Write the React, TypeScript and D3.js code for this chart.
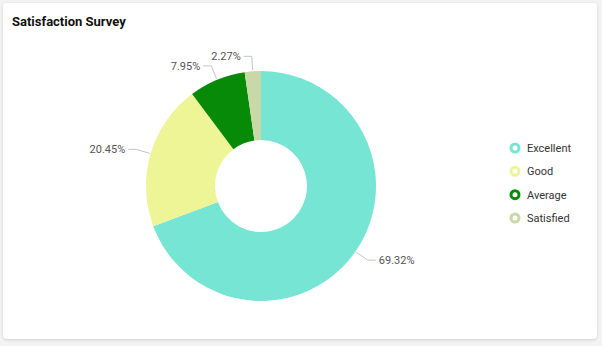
import React from "react";
import * as d3 from "d3";

const categories = ["Excellent", "Good", "Average", "Satisfied"];
const values = [61, 18, 7, 2];
const colors = ["#77e5d4", "#eef596", "#078a07", "#c8d8a6"];
const title = "Satisfaction Survey";

export default function App() {
  const W = 602, H = 346;
  const cx = 261, cy = 186, R = 115, r0 = 46;
  const total = d3.sum(values);
  const pie = d3.pie<number>().sort(null).value((d) => d)(values);
  const arc = d3.arc<d3.PieArcDatum<number>>().innerRadius(r0).outerRadius(R);
  const legendY = d3.scalePoint<string>().domain(categories).range([148, 218]);

  return (
    <svg width={W} height={H} style={{ position: "absolute", left: 0, top: 0, fontFamily: "Roboto, sans-serif" }}>
      <defs>
        <filter id="sh" x="-5%" y="-5%" width="110%" height="110%">
          <feDropShadow dx="0" dy="1" stdDeviation="1.5" floodColor="#000" floodOpacity="0.15" />
        </filter>
      </defs>
      <rect x={0} y={0} width={W} height={H} fill="#f3f3f3" />
      <rect x={3} y={3} width={594} height={336} rx={4} fill="#fff" filter="url(#sh)" />
      <text x={12} y={26} fontSize={13} fontWeight="bold" fill="#111">{title}</text>
      <g transform={`translate(${cx},${cy})`}>
        {pie.map((p, i) => (
          <path key={i} d={arc(p) || ""} fill={colors[i]} />
        ))}
        {pie.map((p, i) => {
          const a = (p.startAngle + p.endAngle) / 2;
          const pt = (rr: number) => [rr * Math.sin(a), -rr * Math.cos(a)];
          const [x1, y1] = pt(R + 1);
          const [x2, y2] = pt(R + 15);
          const right = Math.sin(a) >= 0;
          const x3 = x2 + (right ? 8 : -8);
          const pct = ((values[i] / total) * 100).toFixed(2) + "%";
          return (
            <g key={"l" + i}>
              <polyline points={`${x1},${y1} ${x2},${y2} ${x3},${y2}`} fill="none" stroke="#c4c4c4" strokeWidth={1} />
              <text x={x3 + (right ? 3 : -3)} y={y2} dy="0.35em" fontSize={11} fill="#555" textAnchor={right ? "start" : "end"}>
                {pct}
              </text>
            </g>
          );
        })}
      </g>
      {categories.map((c, i) => (
        <g key={c} transform={`translate(515,${legendY(c)})`}>
          <circle r={4} fill="#fff" stroke={colors[i]} strokeWidth={3} />
          <text x={12} dy="0.35em" fontSize={11} fill="#333">{c}</text>
        </g>
      ))}
    </svg>
  );
}
